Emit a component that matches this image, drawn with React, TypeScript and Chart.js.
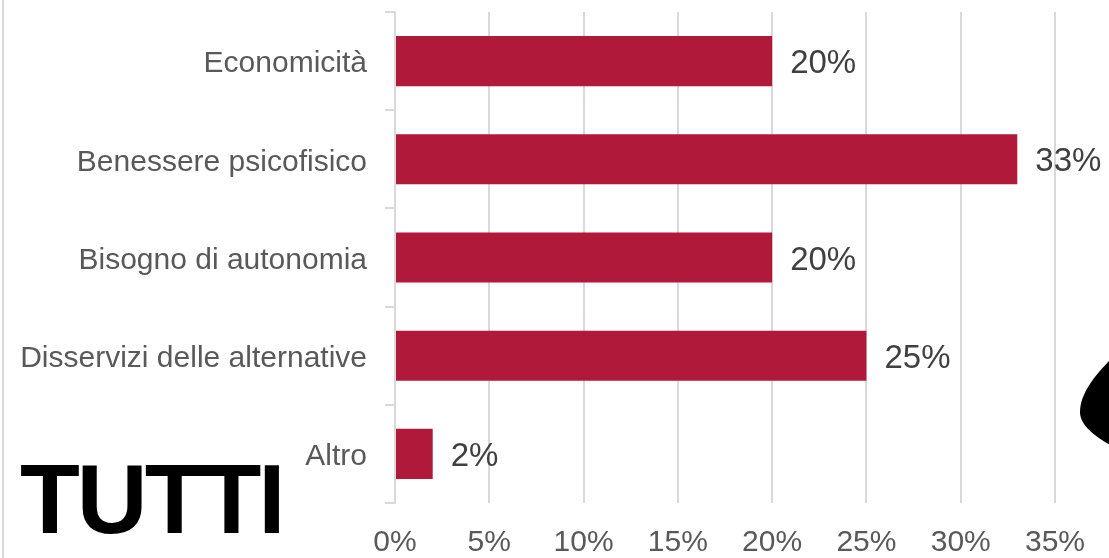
import React, { useEffect, useRef } from "react";
import { Chart, registerables } from "chart.js";

Chart.register(...registerables);

const categories = [
  "Economicità",
  "Benessere psicofisico",
  "Bisogno di autonomia",
  "Disservizi delle alternative",
  "Altro",
];
const values = [20, 33, 20, 25, 2];
const xMin = 0;
const xMax = 35;
const xStep = 5;
const titleText = "TUTTI";

const FONT = "'Liberation Sans', Arial, sans-serif";

const dataLabelPlugin = {
  id: "dataLabels",
  afterDatasetsDraw(chart: any) {
    const ctx = chart.ctx;
    const meta = chart.getDatasetMeta(0);
    ctx.save();
    ctx.font = `33px ${FONT}`;
    ctx.fillStyle = "#404040";
    ctx.textAlign = "left";
    ctx.textBaseline = "middle";
    meta.data.forEach((bar: any, i: number) => {
      ctx.fillText(`${values[i]}%`, bar.x + 18, bar.y + 3);
    });
    ctx.restore();
  },
};

export default function App() {
  const ref = useRef<HTMLCanvasElement | null>(null);

  useEffect(() => {
    document.body.style.margin = "0";
    const canvas = ref.current;
    if (!canvas) return;
    const chart = new Chart(canvas, {
      type: "bar",
      data: {
        labels: categories,
        datasets: [
          {
            data: values,
            backgroundColor: "#b0193a",
            borderWidth: 0,
            categoryPercentage: 1,
            barPercentage: 0.51,
          },
        ],
      },
      options: {
        indexAxis: "y",
        responsive: false,
        animation: false,
        layout: { padding: { top: 12, right: 54, left: 0, bottom: 0 } },
        plugins: {
          legend: { display: false },
          tooltip: { enabled: false },
        },
        scales: {
          x: {
            min: xMin,
            max: xMax,
            ticks: {
              stepSize: xStep,
              padding: 22,
              color: "#595959",
              font: { family: FONT, size: 30 },
              callback: (v: any) => `${v}%`,
            },
            grid: {
              color: "#d9d9d9",
              lineWidth: 2,
              drawTicks: false,
            },
            border: { display: false },
            afterFit: (scale: any) => {
              scale.height = 55;
              scale.paddingLeft = 0;
              scale.paddingRight = 0;
            },
          },
          y: {
            ticks: {
              padding: 18,
              labelOffset: 3,
              color: "#595959",
              font: { family: FONT, size: 30 },
            },
            grid: {
              drawOnChartArea: false,
              drawTicks: true,
              tickLength: 10,
              color: "#d9d9d9",
              lineWidth: 2,
            },
            border: { display: true, color: "#d9d9d9", width: 2 },
            afterFit: (scale: any) => {
              scale.width = 395;
              scale.paddingTop = 0;
              scale.paddingBottom = 0;
            },
          },
        },
      },
      plugins: [dataLabelPlugin],
    });
    return () => chart.destroy();
  }, []);

  return (
    <div
      style={{
        position: "absolute",
        left: 0,
        top: 0,
        width: 1109,
        height: 558,
        background: "#ffffff",
        overflow: "hidden",
      }}
    >
      <canvas ref={ref} width={1109} height={558} style={{ display: "block" }} />
      <div
        style={{
          position: "absolute",
          left: 2,
          top: 0,
          width: 2,
          height: 558,
          background: "#d9d9d9",
        }}
      />
      <div
        style={{
          position: "absolute",
          left: 20,
          top: 450,
          fontFamily: FONT,
          fontWeight: 700,
          fontSize: 98,
          lineHeight: "98px",
          color: "#000000",
          letterSpacing: -3,
          whiteSpace: "nowrap",
        }}
      >
        {titleText}
      </div>
      <svg
        width={1109}
        height={558}
        style={{ position: "absolute", left: 0, top: 0, pointerEvents: "none" }}
      >
        <path
          d="M1112,358 C1098,372 1080,392 1080,412 C1080,426 1096,437 1112,446 Z"
          fill="#000000"
        />
      </svg>
    </div>
  );
}
